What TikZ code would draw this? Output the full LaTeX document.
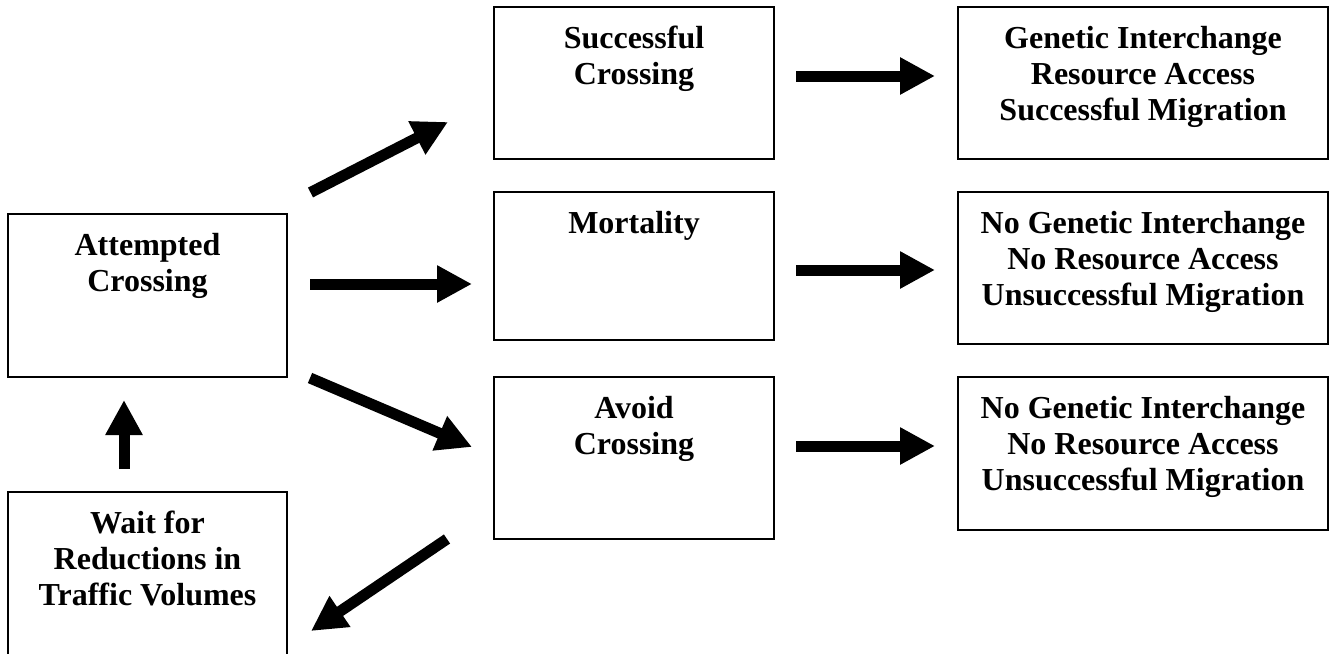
\documentclass[tikz,border=0pt]{standalone}
\usepackage{fontspec}
\setmainfont{Liberation Serif}
\usetikzlibrary{arrows.meta}
\begin{document}
\begin{tikzpicture}[x=1pt,y=-1pt,
  box/.style={draw, line width=1.5pt, inner sep=0pt, outer sep=0pt, anchor=north west},
  lbl/.style={anchor=north, align=center, inner sep=0pt, font=\bfseries\fontsize{32}{36}\selectfont},
  fat/.style={line width=11pt, -{Triangle[length=35pt,width=35pt]}}]
\useasboundingbox (0,0) rectangle (1330,653);
\clip (0,0) rectangle (1330,653);
% boxes
\node[box, minimum width=279pt, minimum height=163pt] (att) at (8,214) {};
\node[box, minimum width=279pt, minimum height=190pt] (wait) at (8,492) {};
\node[box, minimum width=280pt, minimum height=152pt] (succ) at (494,7) {};
\node[box, minimum width=280pt, minimum height=148pt] (mort) at (494,192) {};
\node[box, minimum width=280pt, minimum height=162pt] (avoid) at (494,377) {};
\node[box, minimum width=370pt, minimum height=152pt] (out1) at (958,7) {};
\node[box, minimum width=370pt, minimum height=152pt] (out2) at (958,192) {};
\node[box, minimum width=370pt, minimum height=153pt] (out3) at (958,377) {};
% labels
\node[lbl] (att-t) at (147.5,231) {\rule{0pt}{24pt}Attempted\\Crossing};
\node[lbl] (wait-t) at (147.5,509) {\rule{0pt}{24pt}Wait for\\Reductions in\\Traffic Volumes};
\node[lbl] (succ-t) at (634,24) {\rule{0pt}{24pt}Successful\\Crossing};
\node[lbl] (mort-t) at (634,209) {\rule{0pt}{24pt}Mortality};
\node[lbl] (avoid-t) at (634,394) {\rule{0pt}{24pt}Avoid\\Crossing};
\node[lbl] (out1-t) at (1143,24) {\rule{0pt}{24pt}Genetic Interchange\\Resource Access\\Successful Migration};
\node[lbl] (out2-t) at (1143,209) {\rule{0pt}{24pt}No Genetic Interchange\\No Resource Access\\Unsuccessful Migration};
\node[lbl] (out3-t) at (1143,394) {\rule{0pt}{24pt}No Genetic Interchange\\No Resource Access\\Unsuccessful Migration};
% arrow end points
\coordinate (c1s) at (310.5,192.5); \coordinate (c1e) at (448,122);
\coordinate (c2s) at (310,284);     \coordinate (c2e) at (472,284);
\coordinate (c3s) at (310,378);     \coordinate (c3e) at (472,447);
\coordinate (c4s) at (124,469);     \coordinate (c4e) at (124,400);
\coordinate (c5s) at (447,539);     \coordinate (c5e) at (311,631);
\coordinate (r1s) at (796,76);      \coordinate (r1e) at (935,76);
\coordinate (r2s) at (796,270);     \coordinate (r2e) at (935,270);
\coordinate (r3s) at (796,446);     \coordinate (r3e) at (935,446);
% arrows
\draw[fat] (c1s) -- (c1e);
\draw[fat] (c2s) -- (c2e);
\draw[fat] (c3s) -- (c3e);
\draw[fat] (c4s) -- (c4e);
\draw[fat] (c5s) -- (c5e);
\draw[fat] (r1s) -- (r1e);
\draw[fat] (r2s) -- (r2e);
\draw[fat] (r3s) -- (r3e);
\end{tikzpicture}
\end{document}
